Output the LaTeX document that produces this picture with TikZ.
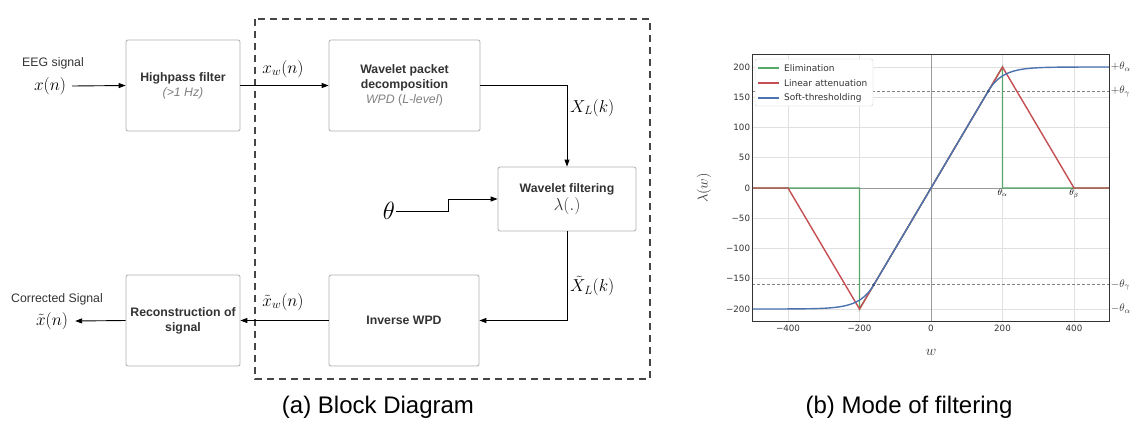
\documentclass[tikz,border=0pt]{standalone}
\usepackage{fontspec}
\setmainfont{Liberation Sans}
\newfontfamily\plotfont{DejaVu Sans}
\usetikzlibrary{arrows.meta, positioning, calc}
\definecolor{boxgray}{RGB}{175,175,175}
\definecolor{textgray}{RGB}{51,51,51}
\definecolor{dashgray}{RGB}{70,70,70}
\definecolor{elimgreen}{RGB}{85,168,104}
\definecolor{attred}{RGB}{196,78,82}
\definecolor{softblue}{RGB}{76,114,176}
\definecolor{gridgray}{RGB}{224,224,224}

\begin{document}
\begin{tikzpicture}[x=1pt, y=-1pt,
    block/.style={rectangle, draw=boxgray, line width=0.8pt, rounded corners=2pt, align=center,
                  text=textgray, font=\fontsize{12.3}{15}\selectfont\bfseries},
    sig/.style={-{Triangle[length=7pt,width=5pt]}, line width=0.9pt},
    siglabel/.style={font=\fontsize{17}{20}\selectfont, inner sep=1pt},
    caption/.style={font=\fontsize{24}{28}\selectfont},
    plotline/.style={line width=1.4pt}
]
    \useasboundingbox (0,0) rectangle (1131,421);

    % block diagram
    \draw[dashgray, line width=1.1pt, dash pattern=on 7pt off 5pt] (255,19) rectangle (650,379);

    \node[block, minimum width=114pt, minimum height=91pt] (hpf) at (183,85.5)
        {Highpass filter\\{\normalfont\itshape\color{gray}(>1 Hz)}};
    \node[block, minimum width=151pt, minimum height=91pt] (wpd) at (404.5,85.5)
        {Wavelet packet\\decomposition\\{\normalfont\color{gray}\textit{WPD} (\textit{L-level})}};
    \node[block, minimum width=138pt, minimum height=64pt] (wfilt) at (567,199)
        {Wavelet filtering\\[1pt]{\normalfont\fontsize{16}{18}\selectfont$\lambda(.)$}};
    \node[block, minimum width=150pt, minimum height=91pt] (iwpd) at (404,320.5) {Inverse WPD};
    \node[block, minimum width=114pt, minimum height=91pt] (recon) at (183,320.5)
        {Reconstruction of\\signal};

    \node[font=\fontsize{12.3}{15}\selectfont, text=textgray, inner sep=1pt] (eeg) at (53,63) {EEG signal};
    \node[font=\fontsize{19}{22}\selectfont, inner sep=1pt] (xin) at (50,86) {$x(n)$};
    \node[font=\fontsize{12.3}{15}\selectfont, text=textgray, inner sep=1pt] (corr) at (57,299) {Corrected Signal};
    \node[font=\fontsize{19}{22}\selectfont, inner sep=1pt] (xout) at (52,321) {$\tilde{x}(n)$};
    \node[font=\fontsize{26}{28}\selectfont, inner sep=1pt] (theta) at (389,211) {$\theta$};
    \coordinate (thstep) at (448,211);

    \draw[sig] (xin.east) ++(5pt,0) -- (hpf.west);
    \draw[sig] (hpf) -- (wpd);
    \draw[sig] (wpd.east) -| (wfilt.north);
    \draw[sig] (theta.east) -- (thstep) |- (wfilt.west);
    \draw[sig] (wfilt.south) |- (iwpd.east);
    \draw[sig] (iwpd) -- (recon);
    \draw[sig] (recon.west) -- ($(xout.east)+(6pt,0)$);

    \node[siglabel] (lxw) at (283,69) {$x_w(n)$};
    \node[siglabel, anchor=west] (lXL) at (569,108) {$X_L(k)$};
    \node[siglabel, anchor=west] (lXLt) at (569,286) {$\tilde{X}_L(k)$};
    \node[siglabel] (lxwt) at (283,302) {$\tilde{x}_w(n)$};

    \node[caption] (capa) at (378,407) {(a) Block Diagram};

    % filtering modes
    \begin{scope}[shift={(931,188)}, x=0.3575pt, y=0.605pt, font=\plotfont\fontsize{8.7}{10}\selectfont]
        \foreach \gx in {-400,-200,...,400}
            \draw[gridgray, line width=0.8pt] (\gx,-221) -- (\gx,221);
        \foreach \gy in {-200,-150,...,200}
            \draw[gridgray, line width=0.8pt] (-500,\gy) -- (500,\gy);
        \draw[gray!80, line width=0.7pt] (0,-221) -- (0,221);
        \draw[gray!80, line width=0.7pt] (-500,0) -- (500,0);
        \draw[gray, line width=0.7pt, dash pattern=on 3pt off 2pt] (-500,160) -- (500,160);
        \draw[gray, line width=0.7pt, dash pattern=on 3pt off 2pt] (-500,-160) -- (500,-160);

        \draw[elimgreen, plotline] (-500,0) -- (-200,0) -- (-200,-200) -- (200,200) -- (200,0) -- (500,0);
        \draw[attred, plotline] (-500,0) -- (-400,0) -- (-200,-200) -- (200,200) -- (400,0) -- (500,0);
        \draw[softblue, plotline] plot[domain=-500:-160, samples=50] (\x,{-160-40*(1-exp((\x+160)/40))})
            -- (160,160) -- plot[domain=160:500, samples=50] (\x,{160+40*(1-exp(-(\x-160)/40))});
        \fill[softblue!70!black] (160,160) circle (1.4pt);
        \fill[softblue!70!black] (-160,-160) circle (1.4pt);

        \draw[textgray, line width=0.8pt] (-500,-221) rectangle (500,221);

        \foreach \ty/\tl in {200/200, 150/150, 100/100, 50/50, 0/0, -50/−50, -100/−100, -150/−150, -200/−200}
            \node[anchor=east, text=textgray, inner sep=2pt] at (-500,\ty) {\tl};
        \foreach \tx/\tl in {-400/−400, -200/−200, 0/0, 200/200, 400/400}
            \node[anchor=north, text=textgray, inner sep=2pt] at (\tx,-223) {\tl};

        \node[anchor=north, inner sep=1.5pt, font=\fontsize{9}{10}\selectfont] (thA) at (200,0) {$\theta_\alpha$};
        \node[anchor=north, inner sep=1.5pt, font=\fontsize{9}{10}\selectfont] (thB) at (400,0) {$\theta_\beta$};
        \foreach \ry/\rl in {200/+\theta_\alpha, 160/+\theta_\gamma, -160/-\theta_\gamma, -200/-\theta_\alpha}
            \node[anchor=west, inner sep=1pt, text=textgray, font=\fontsize{11}{12}\selectfont] at (500,\ry) {$\rl$};

        \node[font=\fontsize{15}{16}\selectfont, text=textgray] (xlab) at (0,-271) {$w$};
    \end{scope}

    \node[rotate=90, font=\fontsize{14}{16}\selectfont, text=textgray] (ylab) at (704,188) {$\lambda(w)$};

    % legend
    \draw[fill=white, draw=gray!40, rounded corners=2pt] (755,59) rectangle (873,106);
    \foreach \ly/\lc/\lt in {68/elimgreen/Elimination, 83/attred/Linear attenuation, 98/softblue/Soft-thresholding} {
        \draw[\lc, plotline] (758,\ly) -- (779,\ly);
        \node[anchor=west, inner sep=1pt, text=textgray, font=\plotfont\fontsize{9}{10}\selectfont] at (783,\ly) {\lt};
    }

    \node[caption] (capb) at (909,407) {(b) Mode of filtering};
\end{tikzpicture}
\end{document}
